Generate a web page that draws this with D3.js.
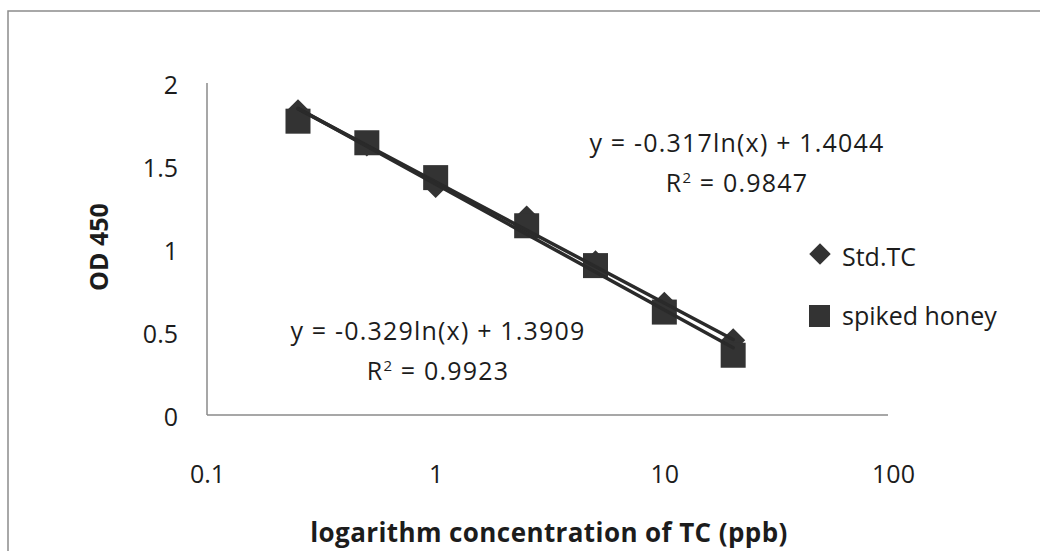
<!DOCTYPE html>
<html>
<head>
<meta charset="utf-8">
<script src="https://cdn.jsdelivr.net/npm/d3@7"></script>
<style>
  body { margin: 0; background: #fff; }
  svg text { font-family: "Open Sans", sans-serif; fill: #1c1c1c; }
</style>
</head>
<body>
<script>
// concentrations of TC (ppb)
var concentrations = [0.25, 0.5, 1, 2.5, 5, 10, 20];
// OD450 readings
var stdTC = [1.83, 1.63, 1.38, 1.19, 0.92, 0.67, 0.45];
var spikedHoney = [1.77, 1.64, 1.43, 1.14, 0.90, 0.62, 0.36];

var xTicks = [0.1, 1, 10, 100];
var yTicks = [0, 0.5, 1, 1.5, 2];

// log trendlines y = a*ln(x) + b
var trendSlopes = [-0.317, -0.329];
var trendIntercepts = [1.4044, 1.3909];
var trendR2 = [0.9847, 0.9923];

var width = 1040, height = 551;
var markColor = "#333";

var svg = d3.select("body").append("svg")
    .attr("width", width)
    .attr("height", height);

// chart frame (right/bottom edges fall outside the picture)
svg.append("rect")
    .attr("x", 8).attr("y", 11)
    .attr("width", 1100).attr("height", 700)
    .attr("fill", "none")
    .attr("stroke", "#8c8c8c")
    .attr("stroke-width", 1.5);

var x = d3.scaleLog().domain([0.1, 100]).range([207, 893]);
var y = d3.scaleLinear().domain([0, 2]).range([415, 83]);

// axes
var yAxis = svg.append("g")
    .attr("transform", "translate(207,0)")
    .call(d3.axisLeft(y).tickValues(yTicks).tickSize(0).tickPadding(29)
      .tickFormat(function(d) { return d; }));
yAxis.select(".domain").remove();

var xAxis = svg.append("g")
    .attr("transform", "translate(0,415)")
    .call(d3.axisBottom(x).tickValues(xTicks).tickSize(0).tickPadding(50)
      .tickFormat(function(d) { return d; }));
xAxis.select(".domain").remove();

svg.selectAll(".tick text")
    .style("font-family", "'Open Sans', sans-serif")
    .style("font-size", "25px")
    .style("fill", "#1c1c1c");
yAxis.selectAll(".tick text").attr("dy", "0.4em");

svg.append("line")
    .attr("x1", 207).attr("x2", 207)
    .attr("y1", y(2)).attr("y2", y(0))
    .attr("stroke", "#8a8a8a").attr("stroke-width", 1.5);
svg.append("line")
    .attr("x1", 207).attr("x2", 888)
    .attr("y1", y(0)).attr("y2", y(0))
    .attr("stroke", "#8a8a8a").attr("stroke-width", 1.5);

// axis titles
svg.append("text")
    .attr("x", 549).attr("y", 542)
    .attr("text-anchor", "middle")
    .style("font-size", "26px").style("font-weight", "bold")
    .style("letter-spacing", "0.4px")
    .text("logarithm concentration of TC (ppb)");

svg.append("text")
    .attr("transform", "translate(108,247) rotate(-90)")
    .attr("text-anchor", "middle")
    .style("font-size", "25px").style("font-weight", "bold")
    .text("OD 450");

// diamonds are squares turned 45 degrees
var diamond = d3.symbol().type(d3.symbolSquare).size(290);

// Std.TC diamonds
svg.append("g").selectAll("path")
    .data(concentrations)
    .enter().append("path")
    .attr("d", diamond)
    .attr("transform", function(d, i) {
      return "translate(" + x(d) + "," + y(stdTC[i]) + ") rotate(45)";
    })
    .attr("fill", markColor);

// spiked honey squares
var sq = 25;
svg.append("g").selectAll("rect")
    .data(concentrations)
    .enter().append("rect")
    .attr("x", function(d) { return x(d) - sq / 2; })
    .attr("y", function(d, i) { return y(spikedHoney[i]) - sq / 2; })
    .attr("width", sq).attr("height", sq)
    .attr("fill", markColor);

// trendlines
var xr = d3.extent(concentrations);
trendSlopes.forEach(function(a, k) {
  var b = trendIntercepts[k];
  svg.append("line")
      .attr("x1", x(xr[0])).attr("y1", y(a * Math.log(xr[0]) + b))
      .attr("x2", x(xr[1])).attr("y2", y(a * Math.log(xr[1]) + b))
      .attr("stroke", "#2a2a2a")
      .attr("stroke-width", 3.5)
      .attr("stroke-linecap", "round");
});

// equation labels
var eqPos = [[737, 152], [438, 340]];
trendSlopes.forEach(function(a, k) {
  var g = svg.append("g").attr("transform", "translate(" + eqPos[k][0] + "," + eqPos[k][1] + ")");
  g.append("text")
      .attr("text-anchor", "middle")
      .style("font-size", "25px").style("letter-spacing", "1.2px")
      .text("y = " + a + "ln(x) + " + trendIntercepts[k]);
  var r = g.append("text")
      .attr("y", 40)
      .attr("text-anchor", "middle")
      .style("font-size", "25px").style("letter-spacing", "1.2px");
  r.append("tspan").text("R");
  r.append("tspan").attr("dy", -9).style("font-size", "15px").text("2");
  r.append("tspan").attr("dy", 9).text(" = " + trendR2[k]);
});

// legend
var legend = svg.append("g");
legend.append("path")
    .attr("d", d3.symbol().type(d3.symbolSquare).size(230))
    .attr("transform", "translate(820,254) rotate(45)")
    .attr("fill", markColor);
legend.append("text")
    .attr("x", 842).attr("y", 266)
    .style("font-size", "25px")
    .text("Std.TC");
legend.append("rect")
    .attr("x", 809).attr("y", 305)
    .attr("width", 21).attr("height", 22)
    .attr("fill", markColor);
legend.append("text")
    .attr("x", 842).attr("y", 325)
    .style("font-size", "25px")
    .text("spiked honey");
</script>
</body>
</html>
